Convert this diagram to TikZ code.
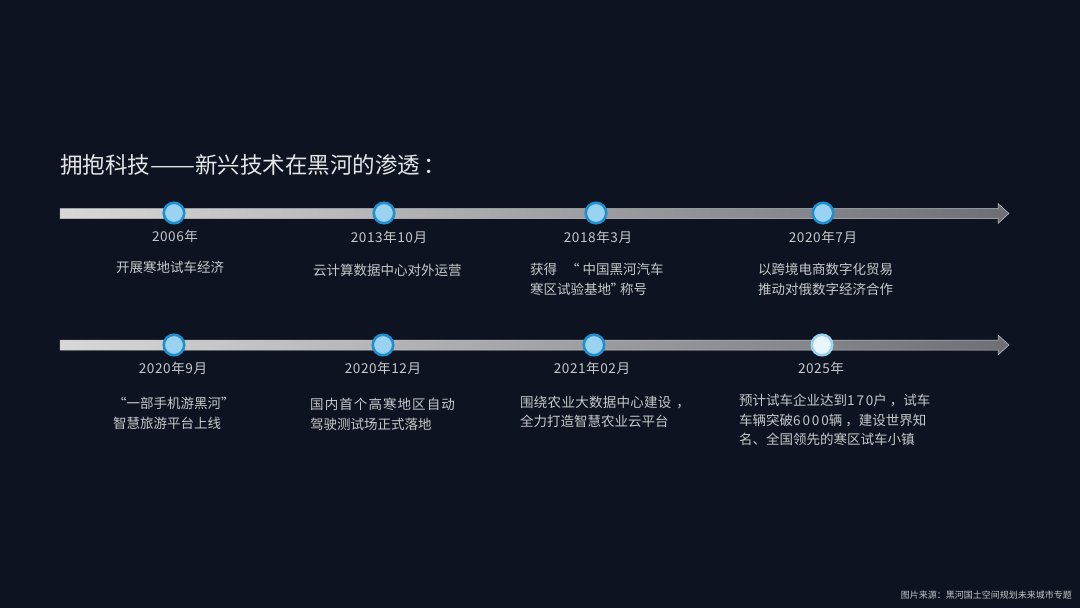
\documentclass[tikz,border=0pt]{standalone}
\usepackage{fontspec}
\setmainfont{Noto Sans CJK SC}
\usetikzlibrary{calc}
\definecolor{bgc}{HTML}{0D1320}
\definecolor{txtc}{HTML}{C6C8CB}
\definecolor{ttlc}{HTML}{E4E5E7}
\definecolor{cdot}{HTML}{9AD2F1}
\definecolor{cring}{HTML}{1E8FCF}
\definecolor{barl}{HTML}{D8D8D8}
\definecolor{barr}{HTML}{6E6F76}
\newcommand{\dg}[1]{{\addfontfeatures{LetterSpace=14}#1}}
\newcommand{\spc}[2]{{\addfontfeatures{LetterSpace=#1}#2}}
\tikzset{
  x=1pt,y=-1pt,
  bar/.style={draw=white!55!gray,line width=0.5pt,left color=barl,right color=barr},
  dot/.style={circle,minimum size=20.5pt,inner sep=0pt,fill=cdot,draw=cring,line width=2.6pt},
  dotlast/.style={dot,fill=white!80!cdot,draw=cdot},
  yr/.style={font=\fontsize{13.6}{13.6}\selectfont\addfontfeatures{LetterSpace=4},text=txtc,inner sep=0pt,anchor=center},
  lab/.style={font=\fontsize{13.5}{19.4}\selectfont,text=txtc,inner sep=0pt,anchor=north west,align=left},
}
\begin{document}
\begin{tikzpicture}
\useasboundingbox (0,0) rectangle (1080,608);
\fill[bgc] (0,0) rectangle (1080,608);
\node[font=\fontsize{22.5}{26}\selectfont,text=ttlc,inner sep=0pt,anchor=west] (title) at (60,165) {拥抱科技\scalebox{1.19}[1]{——}新兴技术在黑河的渗透\hspace{3pt}：};
\foreach \yy/\nm in {213.5/A,345/B}{
  \draw[bar] (60,\yy-5) -- (998,\yy-5) -- (998,\yy-10) -- (1009,\yy) -- (998,\yy+10) -- (998,\yy+5) -- (60,\yy+5) -- cycle;
}
\node[dot] (a1) at (174,213) {};
\node[dot] (a2) at (384,213) {};
\node[dot] (a3) at (596,213) {};
\node[dot] (a4) at (823,213) {};
\node[dot] (b1) at (174,345) {};
\node[dot] (b2) at (383,345) {};
\node[dot] (b3) at (594,345) {};
\node[dotlast] (b4) at (822,345) {};
\node[yr] (ya1) at (175,236.5) {2006年};
\node[yr] (ya2) at (389,237) {2013年10月};
\node[yr] (ya3) at (598,237) {2018年3月};
\node[yr] (ya4) at (823,237) {2020年7月};
\node[yr] (yb1) at (173,368.5) {2020年9月};
\node[yr] (yb2) at (383,368.5) {2020年12月};
\node[yr] (yb3) at (592,368.5) {2021年02月};
\node[yr] (yb4) at (821,368.5) {2025年};
\node[lab] (ta1) at (116,261) {开展寒地试车经济};
\node[lab] (ta2) at (313,264) {云计算数据中心对外运营};
\node[lab] (ta3) at (530,263) {获得\hspace{6pt} “ 中国黑河汽车\\寒区试验基地\hspace{-0.5pt}”\hspace{-4pt}称号};
\node[lab] (ta4) at (758,263) {以跨境电商数字化贸易\\推动对俄数字经济合作};
\node[lab] (tb1) at (113,397) {“一部手机游黑河”\\智慧旅游平台上线};
\node[lab] (tb2) at (310,398) {\spc{8}{国内首个高寒地区自动}\\驾驶测试场正式落地};
\node[lab] (tb3) at (520,396) {\spc{2}{围绕农业大数据中心建设}\hspace{5pt}，\\全力打造智慧农业云平台};
\node[lab] (tb4) at (739,394) {预计试车企业达到\dg{170}户\hspace{3pt}，试车\\车辆突破\dg{6000}辆\hspace{3pt}，建设世界知\\名、全国领先的寒区试车小镇};
\node[font=\fontsize{9}{10}\selectfont,text=txtc,inner sep=0pt,anchor=east] (src) at (1072,595) {图片来源：黑河国土空间规划未来城市专题};
\end{tikzpicture}
\end{document}
